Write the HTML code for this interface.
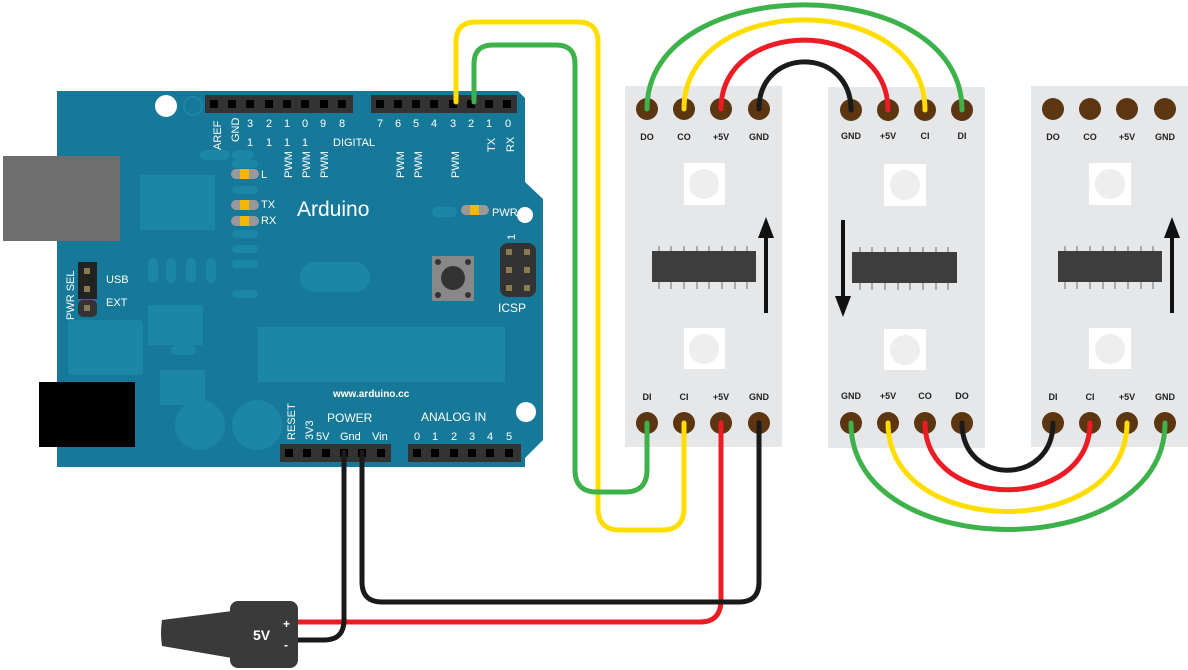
<!DOCTYPE html>
<html><head><meta charset="utf-8"><style>
html,body{margin:0;padding:0;background:#fff}
svg{display:block}
text{font-family:"Liberation Sans",sans-serif}
</style></head><body>
<svg width="1188" height="670" viewBox="0 0 1188 670" xmlns="http://www.w3.org/2000/svg">
<!-- Arduino board -->
<path d="M57,91 H518 L525,98 V182 L543,199 V440 L525,458 V467 H57 Z" fill="#16799a"/>
<g fill="#1b86a6">
<rect x="140" y="175" width="75" height="55"/>
<rect x="148" y="305" width="55" height="40"/>
<rect x="68" y="320" width="75" height="55" rx="4"/>
<rect x="258" y="327" width="247" height="55"/>
<rect x="300" y="262" width="70" height="30" rx="15"/>
<rect x="200" y="150" width="30" height="10" rx="5"/><rect x="232" y="150" width="22" height="10" rx="5"/>
<rect x="232" y="160" width="26" height="8" rx="4"/>
<rect x="232" y="186" width="26" height="8" rx="4"/>
<rect x="232" y="230" width="26" height="8" rx="4"/>
<rect x="232" y="245" width="26" height="8" rx="4"/>
<rect x="232" y="260" width="26" height="8" rx="4"/>
<rect x="148" y="258" width="10" height="25" rx="5"/><rect x="166" y="258" width="10" height="25" rx="5"/><rect x="186" y="258" width="10" height="25" rx="5"/><rect x="206" y="258" width="10" height="25" rx="5"/>
<rect x="232" y="290" width="26" height="8" rx="4"/>
<rect x="171" y="325" width="25" height="10" rx="5"/>
<rect x="171" y="345" width="25" height="10" rx="5"/>
<rect x="160" y="370" width="45" height="35"/>
<circle cx="200" cy="425" r="25"/><circle cx="257" cy="425" r="25"/>
<rect x="432" y="207" width="25" height="10" rx="5"/>
</g>
<circle cx="166" cy="106" r="11" fill="#fff"/>
<circle cx="193" cy="106" r="9" fill="none" stroke="#1b86a6" stroke-width="2"/>
<circle cx="525" cy="215" r="8" fill="#fff"/>
<circle cx="526" cy="412" r="10" fill="#fff"/>
<!-- USB and jack -->
<rect x="3" y="156" width="117" height="85" fill="#6e6e6e"/>
<rect x="39" y="382" width="96" height="65" fill="#000"/>
<!-- headers -->
<rect x="205" y="95" width="148" height="18" fill="#333"/>
<rect x="371" y="95" width="146" height="18" fill="#333"/>
<g fill="#000">
<rect x="210" y="100" width="8" height="8"/><rect x="228" y="100" width="8" height="8"/><rect x="246" y="100" width="8" height="8"/><rect x="265" y="100" width="8" height="8"/><rect x="283" y="100" width="8" height="8"/><rect x="301" y="100" width="8" height="8"/><rect x="320" y="100" width="8" height="8"/><rect x="338" y="100" width="8" height="8"/>
<rect x="376" y="100" width="8" height="8"/><rect x="394" y="100" width="8" height="8"/><rect x="412" y="100" width="8" height="8"/><rect x="430" y="100" width="8" height="8"/><rect x="449" y="100" width="8" height="8"/><rect x="467" y="100" width="8" height="8"/><rect x="485" y="100" width="8" height="8"/><rect x="503" y="100" width="8" height="8"/>
</g>
<rect x="280" y="444" width="111" height="18" fill="#333"/>
<rect x="408" y="444" width="113" height="18" fill="#333"/>
<g fill="#000">
<rect x="285" y="449" width="8" height="8"/><rect x="303" y="449" width="8" height="8"/><rect x="322" y="449" width="8" height="8"/><rect x="340" y="449" width="8" height="8"/><rect x="358" y="449" width="8" height="8"/><rect x="377" y="449" width="8" height="8"/>
<rect x="413" y="449" width="8" height="8"/><rect x="431" y="449" width="8" height="8"/><rect x="450" y="449" width="8" height="8"/><rect x="468" y="449" width="8" height="8"/><rect x="486" y="449" width="8" height="8"/><rect x="505" y="449" width="8" height="8"/>
</g>
<!-- LEDs -->
<g><rect x="231" y="169" width="28" height="10" rx="5" fill="#999"/><rect x="240" y="169" width="9" height="10" fill="#f5b800"/>
<rect x="231" y="200" width="28" height="10" rx="5" fill="#999"/><rect x="240" y="200" width="9" height="10" fill="#f5b800"/>
<rect x="231" y="216" width="28" height="10" rx="5" fill="#999"/><rect x="240" y="216" width="9" height="10" fill="#f5b800"/>
<rect x="461" y="205" width="28" height="10" rx="5" fill="#999"/><rect x="470" y="205" width="9" height="10" fill="#f5b800"/></g>
<!-- reset button -->
<rect x="432" y="256" width="42" height="45" fill="#888"/>
<circle cx="453" cy="278" r="12" fill="#333"/>
<g fill="#333"><circle cx="438" cy="262" r="3"/><circle cx="468" cy="262" r="3"/><circle cx="438" cy="295" r="3"/><circle cx="468" cy="295" r="3"/></g>
<!-- ICSP -->
<rect x="500" y="243" width="36" height="54" rx="8" fill="#333"/>
<g fill="#8a7a50"><rect x="506" y="249" width="6" height="6"/><rect x="524" y="249" width="6" height="6"/><rect x="506" y="267" width="6" height="6"/><rect x="524" y="267" width="6" height="6"/><rect x="506" y="285" width="6" height="6"/><rect x="524" y="285" width="6" height="6"/></g>
<!-- PWR SEL -->
<rect x="78" y="262" width="19" height="37" fill="#222"/>
<rect x="78" y="300" width="19" height="17" rx="5" fill="#333"/>
<g fill="#8a7a50"><rect x="84" y="268" width="6" height="6"/><rect x="84" y="286" width="6" height="6"/><rect x="84" y="305" width="6" height="6"/></g>
<!-- board text -->
<g fill="#fff" font-size="11">
<text x="250" y="127" text-anchor="middle">3</text><text x="269" y="127" text-anchor="middle">2</text><text x="287" y="127" text-anchor="middle">1</text><text x="305" y="127" text-anchor="middle">0</text><text x="323" y="127" text-anchor="middle">9</text><text x="342" y="127" text-anchor="middle">8</text>
<text x="380" y="127" text-anchor="middle">7</text><text x="398" y="127" text-anchor="middle">6</text><text x="416" y="127" text-anchor="middle">5</text><text x="434" y="127" text-anchor="middle">4</text><text x="453" y="127" text-anchor="middle">3</text><text x="471" y="127" text-anchor="middle">2</text><text x="489" y="127" text-anchor="middle">1</text><text x="508" y="127" text-anchor="middle">0</text>
<text x="250" y="146" text-anchor="middle">1</text><text x="269" y="146" text-anchor="middle">1</text><text x="287" y="146" text-anchor="middle">1</text><text x="305" y="146" text-anchor="middle">1</text>
<text x="333" y="146">DIGITAL</text>
<text transform="translate(221,150) rotate(-90)">AREF</text>
<text transform="translate(239,142) rotate(-90)">GND</text>
<text transform="translate(292,178) rotate(-90)">PWM</text>
<text transform="translate(310,178) rotate(-90)">PWM</text>
<text transform="translate(328,178) rotate(-90)">PWM</text>
<text transform="translate(404,178) rotate(-90)">PWM</text>
<text transform="translate(422,178) rotate(-90)">PWM</text>
<text transform="translate(459,178) rotate(-90)">PWM</text>
<text transform="translate(495,152) rotate(-90)">TX</text>
<text transform="translate(514,152) rotate(-90)">RX</text>
<text x="261" y="178">L</text>
<text x="261" y="208">TX</text>
<text x="261" y="224">RX</text>
<text x="492" y="216">PWR</text>
<text x="498" y="312" font-size="12">ICSP</text>
<text transform="translate(515,240) rotate(-90)">1</text>
<text x="106" y="283">USB</text>
<text x="106" y="306">EXT</text>
<text transform="translate(74,320) rotate(-90)">PWR SEL</text>
<text x="297" y="216" font-size="21">Arduino</text>
<text x="333" y="397" font-size="10" font-weight="bold">www.arduino.cc</text>
<text x="327" y="422" font-size="12">POWER</text>
<text x="421" y="421" font-size="12">ANALOG IN</text>
<text transform="translate(295,440) rotate(-90)">RESET</text>
<text transform="translate(313,440) rotate(-90)">3V3</text>
<text x="316" y="440">5V</text><text x="340" y="440">Gnd</text><text x="372" y="440">Vin</text>
<text x="417" y="440" text-anchor="middle">0</text><text x="435" y="440" text-anchor="middle">1</text><text x="454" y="440" text-anchor="middle">2</text><text x="472" y="440" text-anchor="middle">3</text><text x="490" y="440" text-anchor="middle">4</text><text x="509" y="440" text-anchor="middle">5</text>
</g>
<!-- strips -->
<g fill="#e6e7e9">
<rect x="625" y="86" width="157" height="361"/>
<rect x="828" y="87" width="157" height="361"/>
<rect x="1031" y="86" width="157" height="361"/>
</g>
<g id="leds" fill="#fff">
<rect x="684" y="163" width="41" height="42"/><rect x="684" y="328" width="41" height="41"/>
<rect x="884" y="164" width="42" height="42"/><rect x="884" y="329" width="42" height="41"/>
<rect x="1089" y="163" width="42" height="42"/><rect x="1089" y="328" width="42" height="41"/>
</g>
<g fill="#eeeeee">
<ellipse cx="704" cy="184" rx="15" ry="15"/><ellipse cx="704" cy="349" rx="15" ry="15"/>
<ellipse cx="905" cy="185" rx="15" ry="15"/><ellipse cx="905" cy="350" rx="15" ry="15"/>
<ellipse cx="1110" cy="184" rx="15" ry="15"/><ellipse cx="1110" cy="349" rx="15" ry="15"/>
</g>
<!-- chips -->
<g stroke="#aaa" stroke-width="2">
<path d="M659,246V289M671,246V289M684,246V289M697,246V289M709,246V289M722,246V289M735,246V289M747,246V289"/>
<path d="M860,247V290M872,247V290M885,247V290M898,247V290M910,247V290M923,247V290M936,247V290M948,247V290"/>
<path d="M1065,246V289M1077,246V289M1090,246V289M1103,246V289M1115,246V289M1128,246V289M1141,246V289M1153,246V289"/>
</g>
<g fill="#3d3d3d">
<rect x="652" y="251" width="104" height="31"/>
<rect x="852" y="252" width="105" height="31"/>
<rect x="1058" y="251" width="104" height="31"/>
</g>
<!-- arrows -->
<g fill="#111" stroke="#111">
<line x1="766" y1="313" x2="766" y2="235" stroke-width="4"/><path d="M766,217 L758,238 L774,238 Z" stroke="none"/>
<line x1="843" y1="220" x2="843" y2="298" stroke-width="4"/><path d="M843,317 L835,296 L851,296 Z" stroke="none"/>
<line x1="1172" y1="313" x2="1172" y2="235" stroke-width="4"/><path d="M1172,217 L1164,238 L1180,238 Z" stroke="none"/>
</g>
<!-- pads -->
<g fill="#5c3511">
<circle cx="647" cy="109" r="11"/><circle cx="684" cy="109" r="11"/><circle cx="721" cy="109" r="11"/><circle cx="759" cy="109" r="11"/>
<circle cx="647" cy="423" r="11"/><circle cx="684" cy="423" r="11"/><circle cx="721" cy="423" r="11"/><circle cx="759" cy="423" r="11"/>
<circle cx="851" cy="110" r="11"/><circle cx="888" cy="110" r="11"/><circle cx="925" cy="110" r="11"/><circle cx="962" cy="110" r="11"/>
<circle cx="851" cy="423" r="11"/><circle cx="888" cy="423" r="11"/><circle cx="925" cy="423" r="11"/><circle cx="962" cy="423" r="11"/>
<circle cx="1053" cy="109" r="11"/><circle cx="1090" cy="109" r="11"/><circle cx="1127" cy="109" r="11"/><circle cx="1165" cy="109" r="11"/>
<circle cx="1053" cy="423" r="11"/><circle cx="1090" cy="423" r="11"/><circle cx="1127" cy="423" r="11"/><circle cx="1165" cy="423" r="11"/>
</g>
<g font-size="9" font-weight="bold" fill="#222" text-anchor="middle">
<text x="647" y="140">DO</text><text x="684" y="140">CO</text><text x="721" y="140">+5V</text><text x="759" y="140">GND</text>
<text x="647" y="400">DI</text><text x="684" y="400">CI</text><text x="721" y="400">+5V</text><text x="759" y="400">GND</text>
<text x="851" y="139">GND</text><text x="888" y="139">+5V</text><text x="925" y="139">CI</text><text x="962" y="139">DI</text>
<text x="851" y="399">GND</text><text x="888" y="399">+5V</text><text x="925" y="399">CO</text><text x="962" y="399">DO</text>
<text x="1053" y="140">DO</text><text x="1090" y="140">CO</text><text x="1127" y="140">+5V</text><text x="1165" y="140">GND</text>
<text x="1053" y="400">DI</text><text x="1090" y="400">CI</text><text x="1127" y="400">+5V</text><text x="1165" y="400">GND</text>
</g>
<!-- wires -->
<g fill="none" stroke-width="5" stroke-linecap="round">
<path d="M456,102 V42 Q456,22 476,22 H578 Q598,22 598,42 V508 Q598,530 620,530 H662 Q684,530 684,508 V423" stroke="#ffdd00"/>
<path d="M474,102 V64 Q474,45 493,45 H556 Q575,45 575,64 V470 Q575,492 597,492 H625 Q647,492 647,470 V423" stroke="#3db24a"/>
<path d="M290,622 H700 Q721,622 721,600 V423" stroke="#ec1c24"/>
<path d="M362,452 V582 Q362,602 382,602 H739 Q759,602 759,582 V423" stroke="#1a1a1a"/>
<path d="M344,452 V620 Q344,640 324,640 H295" stroke="#1a1a1a"/>
<path d="M759,109 C759,46 851,46 851,110" stroke="#1a1a1a"/>
<path d="M721,109 C721,17 888,17 888,110" stroke="#ec1c24"/>
<path d="M684,109 C684,-10 925,-10 925,110" stroke="#ffdd00"/>
<path d="M647,109 C647,-30 962,-30 962,110" stroke="#3db24a"/>
<path d="M962,423 C962,486 1053,486 1053,423" stroke="#1a1a1a"/>
<path d="M925,423 C925,512 1090,512 1090,423" stroke="#ec1c24"/>
<path d="M888,423 C888,541 1127,541 1127,423" stroke="#ffdd00"/>
<path d="M851,423 C851,565 1165,565 1165,423" stroke="#3db24a"/>
</g>
<!-- battery connector -->
<path d="M162,620 L232,611 V658 L162,646 Q160,633 162,620 Z" fill="#3a3a3a"/>
<rect x="230" y="601" width="68" height="67" rx="8" fill="#3a3a3a"/>
<text x="253" y="640" font-size="14" font-weight="bold" fill="#fff">5V</text>
<text x="283" y="628" font-size="12" font-weight="bold" fill="#fff">+</text>
<text x="284" y="649" font-size="12" font-weight="bold" fill="#fff">-</text>
</svg>
</body></html>
